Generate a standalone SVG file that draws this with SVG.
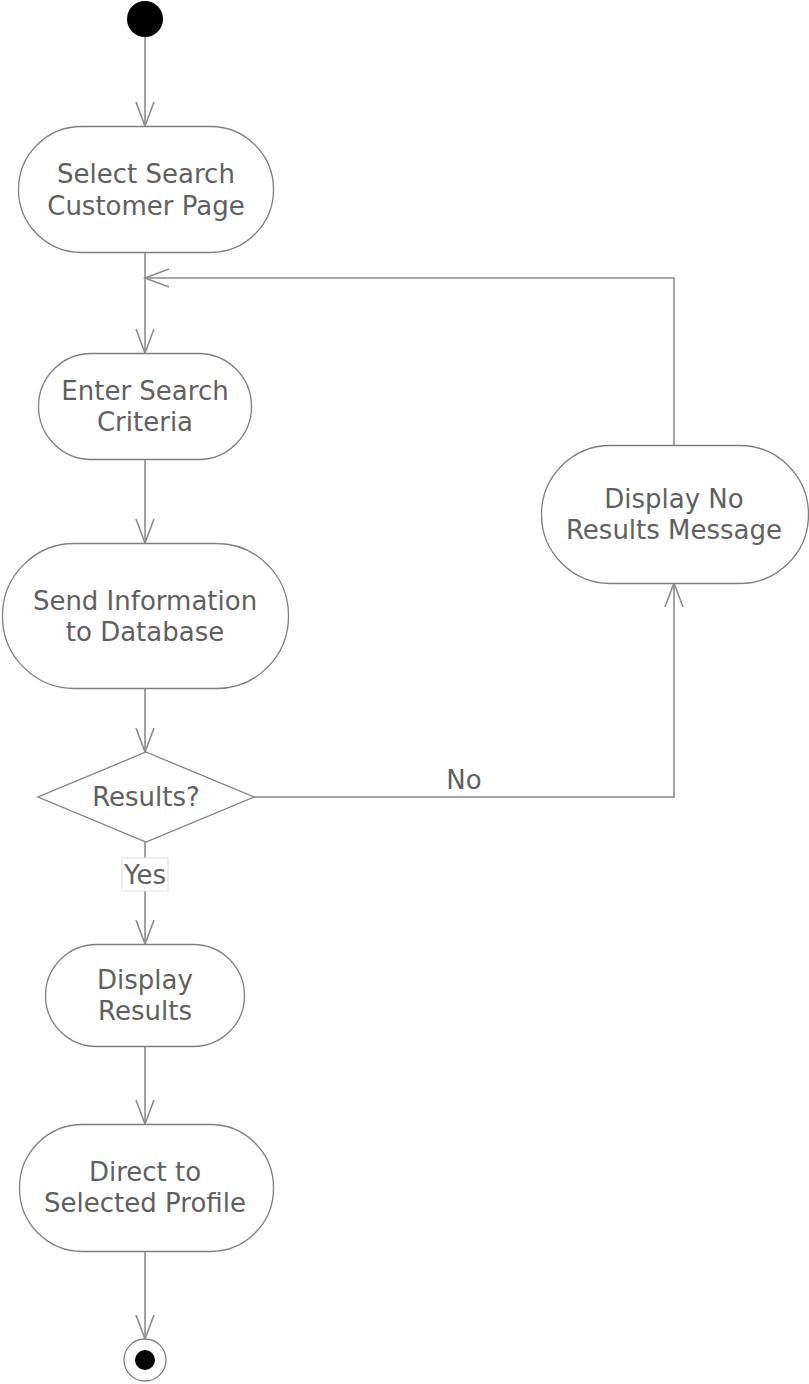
<svg xmlns="http://www.w3.org/2000/svg" width="809" height="1384" viewBox="0 0 809 1384">
<defs>
<style>
.node{fill:#fff;stroke:#7f7f7f;stroke-width:1.3}
.lbl{font-family:"DejaVu Sans",Verdana,sans-serif;font-size:26px;fill:#606060;text-anchor:middle}
.edge{fill:none;stroke:#8c8c8c;stroke-width:1.6}
.head{fill:none;stroke:#8c8c8c;stroke-width:1.6}
</style>
</defs>
<rect width="809" height="1384" fill="#fff"/>
<g id="connectors">
<path class="edge" d="M145,36 V126"/>
<path class="head" d="M136,102 L145,126 L154,102"/>
<path class="edge" d="M145,252 V353"/>
<path class="head" d="M136,329 L145,353 L154,329"/>
<path class="edge" d="M145,459 V543"/>
<path class="head" d="M136,519 L145,543 L154,519"/>
<path class="edge" d="M145,688 V752"/>
<path class="head" d="M136,728 L145,752 L154,728"/>
<path class="edge" d="M254,797 H674 V583"/>
<path class="head" d="M665,607 L674,583 L683,607"/>
<path class="edge" d="M674,445 V278 H145"/>
<path class="head" d="M169,269 L145,278 L169,287"/>
<path class="edge" d="M145,842 V944"/>
<path class="head" d="M136,920 L145,944 L154,920"/>
<path class="edge" d="M145,1046 V1124"/>
<path class="head" d="M136,1100 L145,1124 L154,1100"/>
<path class="edge" d="M145,1251 V1339"/>
<path class="head" d="M136,1315 L145,1339 L154,1315"/>
<text class="lbl" x="464" y="789">No</text>
<rect x="122" y="858" width="46" height="33" fill="#fff" stroke="#e0e0e0" stroke-width="1"/>
<text class="lbl" x="145" y="884">Yes</text>
</g>
<g id="start"><circle cx="145" cy="19" r="18" fill="#000"/></g>
<g id="n1"><rect class="node" x="18.5" y="126.5" width="255" height="126" rx="63" ry="63"/>
<text class="lbl" x="146" y="183">Select Search</text><text class="lbl" x="146" y="215">Customer Page</text></g>
<g id="n2"><rect class="node" x="38.5" y="353.5" width="213" height="106" rx="53" ry="53"/>
<text class="lbl" x="145" y="400">Enter Search</text><text class="lbl" x="145" y="431">Criteria</text></g>
<g id="n3"><rect class="node" x="2.5" y="543.5" width="286" height="145" rx="72" ry="72"/>
<text class="lbl" x="145" y="610">Send Information</text><text class="lbl" x="145" y="641">to Database</text></g>
<g id="decision"><polygon class="node" points="146,752 254,797 146,842 38,797"/>
<text class="lbl" x="146" y="806">Results?</text></g>
<g id="n4"><rect class="node" x="541.5" y="445.5" width="267" height="138" rx="69" ry="69"/>
<text class="lbl" x="674" y="508">Display No</text><text class="lbl" x="674" y="539">Results Message</text></g>
<g id="n5"><rect class="node" x="45.5" y="944.5" width="199" height="102" rx="51" ry="51"/>
<text class="lbl" x="145" y="989">Display</text><text class="lbl" x="145" y="1020">Results</text></g>
<g id="n6"><rect class="node" x="19.5" y="1124.5" width="254" height="127" rx="63" ry="63"/>
<text class="lbl" x="145" y="1181">Direct to</text><text class="lbl" x="145" y="1212">Selected Profile</text></g>
<g id="end"><circle cx="145" cy="1360" r="21" fill="#fff" stroke="#7f7f7f" stroke-width="1.3"/><circle cx="145" cy="1360" r="10" fill="#000"/></g>
</svg>
